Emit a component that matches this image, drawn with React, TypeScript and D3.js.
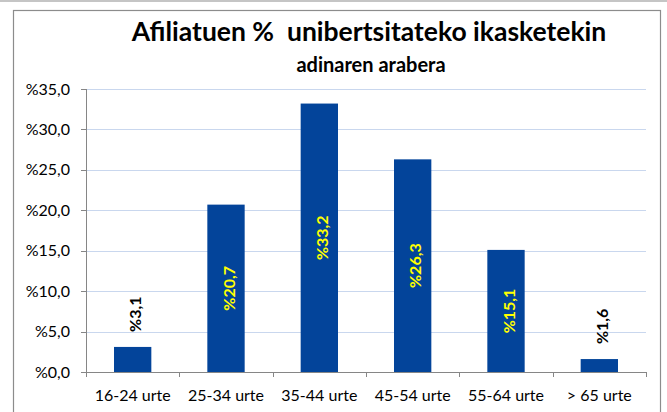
import React from 'react';
import * as d3 from 'd3';

const categories = ['16-24 urte', '25-34 urte', '35-44 urte', '45-54 urte', '55-64 urte', '> 65 urte'];
const values = [3.1, 20.7, 33.2, 26.3, 15.1, 1.6];
const yTicks = [0, 5, 10, 15, 20, 25, 30, 35];
// bars tall enough get the label inside, in yellow
const insideLabel = [false, true, true, true, true, false];

const title = 'Afiliatuen %  unibertsitateko ikasketekin';
const subtitle = 'adinaren arabera';

const W = 667;
const H = 412;
const font = 'Lato, "Open Sans", sans-serif';

const fmt = (v: number) => '%' + v.toFixed(1).replace('.', ',');

export default function App() {
  const left = 86;
  const right = 646;
  const top = 89;
  const bottom = 372;

  const x = d3.scaleBand<string>().domain(categories).range([left, right]).paddingInner(0.6).paddingOuter(0.3);
  const y = d3.scaleLinear().domain([0, 35]).range([bottom, top]);

  const step = x.step();
  const bounds = categories.map((c) => (x(c) as number) - step * 0.3);
  bounds.push(right);

  return (
    <svg width={W} height={H} style={{ position: 'absolute', left: 0, top: 0, background: '#fff' }} fontFamily={font}>
      {/* frame */}
      <line x1={0} x2={W} y1={1} y2={1} stroke="#8c8c8c" strokeWidth={1.2} />
      <rect x={13.5} y={10.5} width={647} height={420} fill="#fff" stroke="#8c8c8c" strokeWidth={1.2} />

      <text x={369} y={41} textAnchor="middle" fontWeight="bold" fontSize={26.5} style={{ whiteSpace: 'pre' }}>
        {title}
      </text>
      <text x={371} y={72} textAnchor="middle" fontWeight="bold" fontSize={20}>
        {subtitle}
      </text>

      {/* grid */}
      {yTicks.filter((t) => t > 0).map((t) => (
        <line key={'g' + t} x1={left} x2={right} y1={Math.round(y(t)) + 0.5} y2={Math.round(y(t)) + 0.5} stroke="#c9d7ee" strokeWidth={1} />
      ))}

      {/* bars */}
      {categories.map((c, i) => (
        <rect key={c} x={x(c)} y={y(values[i])} width={x.bandwidth()} height={bottom - y(values[i])} fill="#03449a" />
      ))}

      {/* axes */}
      <line x1={left + 0.5} x2={left + 0.5} y1={top} y2={bottom} stroke="#868686" />
      <line x1={left} x2={right} y1={bottom + 0.5} y2={bottom + 0.5} stroke="#868686" />
      {yTicks.map((t) => (
        <g key={'y' + t}>
          <line x1={left - 5} x2={left} y1={Math.round(y(t)) + 0.5} y2={Math.round(y(t)) + 0.5} stroke="#868686" />
          <text x={70} y={y(t)} dy="0.35em" textAnchor="end" fontSize={16}>
            {fmt(t)}
          </text>
        </g>
      ))}
      {bounds.map((b, i) => (
        <line key={'xt' + i} x1={Math.round(b) + 0.5} x2={Math.round(b) + 0.5} y1={bottom} y2={bottom + 5} stroke="#868686" />
      ))}
      {categories.map((c) => (
        <text key={'xl' + c} x={(x(c) as number) + x.bandwidth() / 2} y={401} textAnchor="middle" fontSize={16}>
          {c}
        </text>
      ))}

      {/* data labels */}
      {categories.map((c, i) => {
        const cx = (x(c) as number) + x.bandwidth() / 2 + 3;
        const inside = insideLabel[i];
        const cy = inside ? (y(values[i]) + bottom) / 2 : y(values[i]) - 15;
        return (
          <text
            key={'dl' + c}
            transform={`translate(${cx},${cy}) rotate(-90)`}
            dy="0.35em"
            textAnchor={inside ? 'middle' : 'start'}
            fontWeight="bold"
            fontSize={16}
            fill={inside ? '#ffff00' : '#000'}
          >
            {fmt(values[i])}
          </text>
        );
      })}
    </svg>
  );
}
